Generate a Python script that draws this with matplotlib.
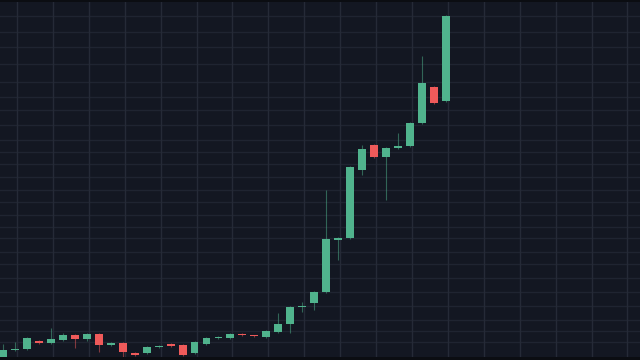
import numpy as np
import matplotlib
matplotlib.use("Agg")
import matplotlib.pyplot as plt

# OHLC (arbitrary price units)
opens  = [2, 10, 11, 19, 17, 20, 25, 21, 26, 15, 17, 7, 7, 13, 16, 15, 7, 16, 22, 22,
          26, 24.5, 23, 28, 36, 53, 57, 68, 120, 122, 190, 215, 203, 212, 214, 237, 273, 259]
highs  = [16, 18, 23, 20, 32, 27, 26, 27, 27, 18, 18, 8, 14, 15, 17, 16, 19, 23, 24, 27,
          27, 25, 30, 47, 54, 58, 69, 170, 123, 194, 215, 216, 213, 227, 238, 304, 274, 345]
lows   = [1, 9, 10, 16, 16, 19, 12, 19, 8, 14, 2, 4, 6, 12, 13, 4, 6, 15, 21, 21,
          24, 23, 22, 27, 27, 48, 50, 67, 100, 121, 185, 202, 160, 211, 213, 236, 256, 258]
closes = [10, 10.5, 22, 17, 21, 25, 21, 26, 15, 17, 8, 5, 13, 14, 14, 5, 18, 22, 23, 26,
          25, 24, 29, 36, 53, 54, 68, 121, 122, 193, 211, 203, 212, 214, 237, 277, 257, 344]

# price grid levels
price_grid = [344, 328, 313, 296, 278, 263, 250, 235, 220, 208, 196, 183, 170, 158,
              145, 133, 122, 108, 96, 82, 68, 54, 40, 29, 18]

bg = '#131722'
up_col = '#50b38d'
down_col = '#ef5a5a'
step = 11.97  # pixels per candle

fig = plt.figure(figsize=(6.4, 3.6), dpi=100)
fig.patch.set_facecolor('#0b0d12')
ax = fig.add_axes([0, 3 / 360, 1, 355 / 360])
ax.set_facecolor(bg)

x = np.arange(len(opens))
o = np.array(opens, dtype=float)
c = np.array(closes, dtype=float)
h = np.array(highs, dtype=float)
l = np.array(lows, dtype=float)
up = c >= o
colors = np.where(up, up_col, down_col)

# wicks
ax.vlines(x, l, h, colors=colors, linewidth=0.8, alpha=0.5, zorder=2)
# bodies
body = np.maximum(np.abs(c - o), 1.2)
ax.bar(x, body, bottom=np.minimum(o, c), width=0.66, color=colors, linewidth=0, zorder=3)

# grid
for gy in price_grid:
    ax.axhline(gy, color='#1f2431', linewidth=1.0, zorder=1)
for gx in np.arange(14 / step, 56, 3):
    ax.axvline(gx, color='#252a37', linewidth=1.0, zorder=1)

ax.set_xlim(-3 / step, 637 / step)
ax.set_ylim(3, 358)
ax.set_xticks([])
ax.set_yticks([])
for s in ax.spines.values():
    s.set_visible(False)

fig.savefig('out.png', dpi=100, facecolor=fig.get_facecolor())
plt.close(fig)
